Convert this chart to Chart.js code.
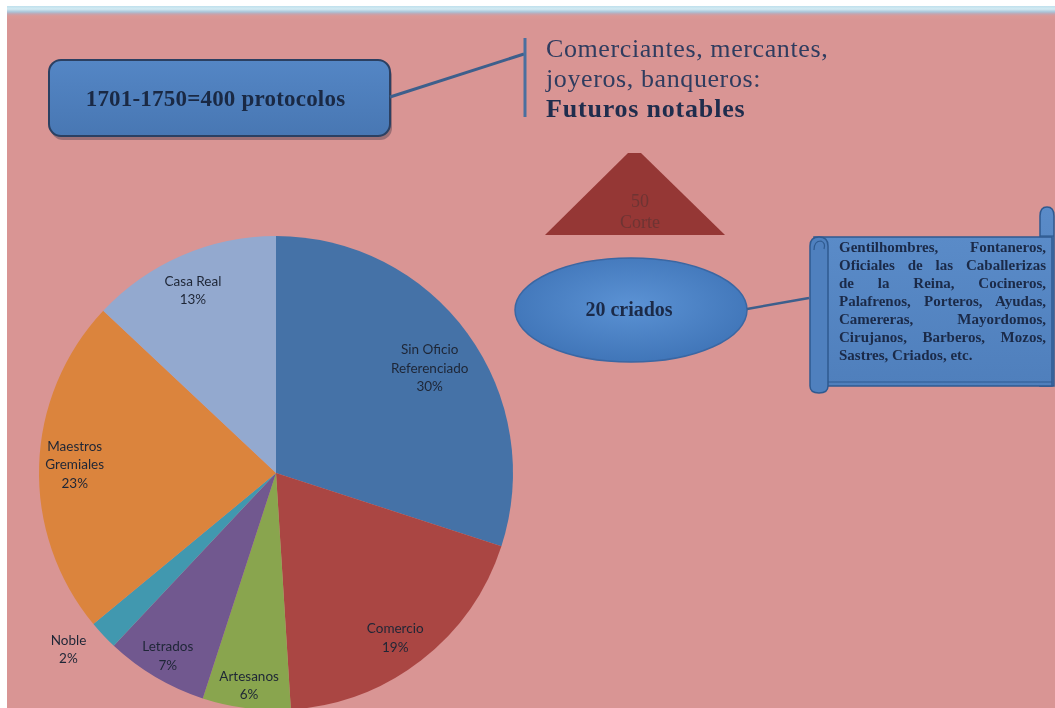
<!DOCTYPE html>
<html>
<head>
<meta charset="utf-8">
<script src="https://cdn.jsdelivr.net/npm/chart.js@4/dist/chart.umd.min.js"></script>
<style>
  body { margin: 0; width: 1055px; height: 708px; overflow: hidden; background: #fff; position: relative; }
  #panel { position: absolute; left: 7px; top: 6px; right: 0; bottom: 0;
    background: linear-gradient(#bfe0ec 0px, #d3ebf3 3px, #a9c3d8 6px, #c5a3ae 8px, #da9997 10px, #d99594 14px); }
  #pie { position: absolute; left: 0; top: 0; }
  svg { position: absolute; left: 0; top: 0; }
  .t { position: absolute; font-family: "Liberation Serif", serif; color: #1d2b4b; }
  #boxText { left: 45px; top: 60px; width: 341px; height: 77px; line-height: 77px; text-align: center; font-weight: bold; font-size: 23px; letter-spacing: 0.2px; color: #1a2944; }
  #note { left: 546px; top: 34px; font-size: 26px; letter-spacing: 0.6px; line-height: 30px; color: #2f3c5f; }
  #note b { color: #1f2d4d; letter-spacing: 0.8px; }
  #corte { left: 590px; top: 191px; width: 100px; text-align: center; font-size: 18px; line-height: 21px; color: #6e3433; }
  #criados { left: 539px; top: 298px; width: 180px; text-align: center; font-size: 20px; font-weight: bold; color: #1b2a48; }
  #scrollText { left: 839px; top: 238px; width: 207px; font-size: 15px; line-height: 18px; font-weight: bold; color: #1b2a48; }
  #scrollText div { text-align: justify; text-align-last: justify; white-space: nowrap; }
  #scrollText div:last-child { text-align-last: left; }
</style>
</head>
<body>
<div id="panel"></div>
<canvas id="pie" width="1055" height="708"></canvas>
<svg width="1055" height="708">
  <defs>
    <linearGradient id="boxFill" x1="0" y1="0" x2="0" y2="1">
      <stop offset="0" stop-color="#5486c5"/>
      <stop offset="1" stop-color="#4877b3"/>
    </linearGradient>
    <radialGradient id="ellFill" cx="0.5" cy="0.45" r="0.6">
      <stop offset="0" stop-color="#5b92d4"/>
      <stop offset="1" stop-color="#3e73b6"/>
    </radialGradient>
    <linearGradient id="scrollFill" x1="0" y1="0" x2="0" y2="1">
      <stop offset="0" stop-color="#5a8bc8"/>
      <stop offset="1" stop-color="#4f7fbc"/>
    </linearGradient>
  </defs>
  <rect x="51" y="64" width="341" height="76" rx="12" fill="rgba(40,40,60,0.35)"/>
  <rect x="49" y="60" width="341" height="76" rx="12" fill="url(#boxFill)" stroke="#2b4062" stroke-width="2"/>
  <line x1="390" y1="97" x2="524" y2="54" stroke="#3d5f8c" stroke-width="3"/>
  <line x1="525" y1="38" x2="525" y2="117" stroke="#4a6f9f" stroke-width="3"/>
  <polygon points="545,235 725,235 641,153 628,153" fill="#953735"/>
  <ellipse cx="631" cy="310" rx="116" ry="52" fill="url(#ellFill)" stroke="#3a67a3" stroke-width="1.5"/>
  <line x1="747" y1="309" x2="809" y2="298" stroke="#3d5f8c" stroke-width="2.5"/>
  <!-- pergamino -->
  <path d="M1040,240 L1040,216 Q1040,207 1047,207 Q1054,207 1054,216 L1054,386 L1040,386 Z" fill="url(#scrollFill)" stroke="#2f5a90" stroke-width="1.5"/>
  <rect x="814" y="237" width="238" height="149" fill="url(#scrollFill)" stroke="#2f5a90" stroke-width="1.5"/>
  <line x1="828" y1="382" x2="1052" y2="382" stroke="#2f5a90" stroke-width="1"/>
  <path d="M810,246 Q810,237 819,237 Q828,237 828,246 L828,386 Q828,393 819,393 Q810,393 810,386 Z" fill="#4f80be" stroke="#2f5a90" stroke-width="1.5"/>
  <path d="M814,250 Q814,241 821,241 Q826,243 824,249" fill="none" stroke="#2f5a90" stroke-width="1.2"/>
  <line x1="1040" y1="236" x2="1054" y2="236" stroke="#2f5a90" stroke-width="1.2"/>
</svg>
<div class="t" id="boxText">1701-1750=400 protocolos</div>
<div class="t" id="note">Comerciantes, mercantes,<br>joyeros, banqueros:<br><b>Futuros notables</b></div>
<div class="t" id="corte">50<br>Corte</div>
<div class="t" id="criados">20 criados</div>
<div class="t" id="scrollText">
  <div>Gentilhombres, Fontaneros,</div>
  <div>Oficiales de las Caballerizas</div>
  <div>de la Reina, Cocineros,</div>
  <div>Palafrenos, Porteros, Ayudas,</div>
  <div>Camereras, Mayordomos,</div>
  <div>Cirujanos, Barberos, Mozos,</div>
  <div>Sastres, Criados, etc.</div>
</div>
<script>
// Composición social, 1701-1750 (400 protocolos)
const categories = [
  ['Sin Oficio', 'Referenciado'],
  ['Comercio'],
  ['Artesanos'],
  ['Letrados'],
  ['Noble'],
  ['Maestros', 'Gremiales'],
  ['Casa Real']
];
const protocolos = [120, 76, 24, 28, 8, 92, 52];
const sliceColors = ['#4572A7', '#AA4643', '#89A54E', '#71588F', '#4198AF', '#DB843D', '#93A9CF'];

// labels drawn at slice middle, pushed out by a factor of the radius
const sliceLabels = {
  id: 'sliceLabels',
  afterDatasetsDraw(chart, args, opts) {
    const ctx = chart.ctx;
    const meta = chart.getDatasetMeta(0);
    const vals = chart.data.datasets[0].data;
    const total = vals.reduce((a, b) => a + b, 0);
    ctx.save();
    ctx.font = opts.font;
    ctx.fillStyle = opts.color;
    ctx.textAlign = 'center';
    ctx.textBaseline = 'middle';
    meta.data.forEach((arc, i) => {
      const p = arc.getProps(['x', 'y', 'startAngle', 'endAngle', 'outerRadius'], true);
      const a = (p.startAngle + p.endAngle) / 2 + (opts.shift[i] || 0) * Math.PI / 180;
      const r = p.outerRadius * opts.dist[i];
      const cx = p.x + Math.cos(a) * r;
      const cy = p.y + Math.sin(a) * r;
      const lines = categories[i].concat([Math.round(vals[i] / total * 100) + '%']);
      lines.forEach((t, k) => {
        ctx.fillText(t, cx, cy + (k - (lines.length - 1) / 2) * opts.lineHeight);
      });
    });
    ctx.restore();
  }
};

const ctx = document.getElementById('pie');
new Chart(ctx, {
  type: 'pie',
  data: {
    labels: categories.map(c => c.join(' ')),
    datasets: [{
      data: protocolos,
      backgroundColor: sliceColors,
      borderWidth: 0,
      radius: 237
    }]
  },
  options: {
    responsive: false,
    animation: false,
    layout: { padding: { left: 39, right: 542, top: 238, bottom: 0 } },
    plugins: {
      legend: { display: false },
      tooltip: { enabled: false },
      sliceLabels: {
        font: '13.5px Lato, "Noto Sans", sans-serif',
        color: '#1e2636',
        lineHeight: 18.5,
        dist: [0.785, 0.86, 0.905, 0.897, 1.15, 0.85, 0.845],
        shift: [1.7, 2, 0, 0, 2.8, 0.5, -1.1]
      }
    }
  },
  plugins: [sliceLabels]
});
</script>
</body>
</html>
